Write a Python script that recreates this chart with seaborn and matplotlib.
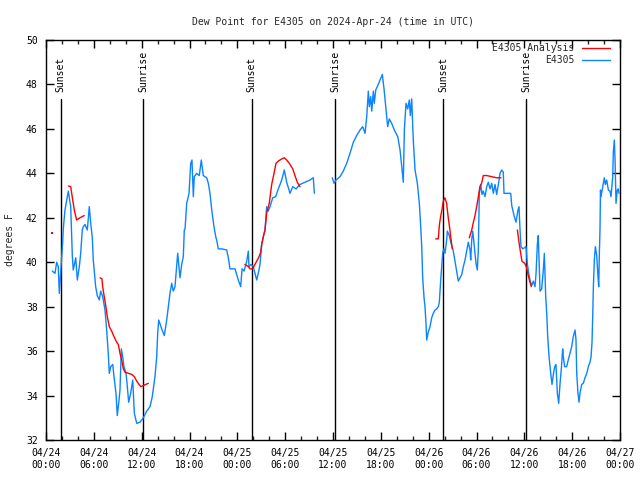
import numpy as np
import pandas as pd
import matplotlib
matplotlib.use("Agg")
import matplotlib.pyplot as plt
import matplotlib.dates as mdates
import matplotlib.transforms as mtransforms
from matplotlib.lines import Line2D
import seaborn as sns

# ---------------- data (hours since 2024-04-24 00:00 UTC, degrees F) ----------------
START = pd.Timestamp("2024-04-24 00:00")

obs_a_hours = [0.79, 1.13, 1.34, 1.54, 1.67, 1.97, 2.09, 2.17, 2.38, 2.80,
               3.10, 3.22, 3.30, 3.42, 3.73, 3.93, 4.18, 4.35, 4.55, 4.68,
               4.89, 5.18, 5.43, 5.61, 5.81, 5.93, 6.23, 6.43, 6.69, 6.86,
               7.11, 7.40, 7.61, 7.81, 7.94, 8.12, 8.37, 8.53, 8.78, 8.94,
               9.16, 9.28, 9.45, 9.62, 9.78, 10.04, 10.20, 10.37, 10.62, 10.88,
               11.08, 11.38, 11.79, 12.21, 12.63, 13.05, 13.33, 13.67, 13.89, 14.01,
               14.14, 14.51, 14.84, 15.14, 15.34, 15.55, 15.77, 15.97, 16.18, 16.39,
               16.52, 16.68, 16.81, 17.02, 17.22, 17.35, 17.44, 17.65, 17.94, 18.15,
               18.31, 18.48, 18.60, 18.90, 19.23, 19.48, 19.73, 20.16, 20.36, 20.57,
               20.79, 21.07, 21.32, 21.41, 21.61, 22.04, 22.67, 22.87, 23.08, 23.71,
               24.12, 24.42, 24.59, 24.84, 25.18, 25.38, 25.46, 25.71, 26.00, 26.22,
               26.43, 26.63, 26.84, 27.06, 27.26, 27.47, 27.68, 27.88, 28.10, 28.44,
               28.81, 29.14, 29.57, 29.89, 30.19, 30.61, 30.95, 31.36, 31.86, 32.49,
               33.12, 33.53, 33.66]
obs_a_dew = [39.6, 39.5, 40.0, 39.8, 38.6, 40.2, 40.9, 41.5, 42.35, 43.2,
             42.5, 41.15, 40.3, 39.65, 40.2, 39.2, 39.8, 40.4, 41.45, 41.6,
             41.7, 41.45, 42.5, 41.75, 41.1, 40.1, 38.9, 38.5, 38.3, 38.7,
             38.45, 37.85, 36.95, 35.9, 35.0, 35.3, 35.4, 34.85, 34.1, 33.1,
             33.8, 34.25, 36.1, 35.75, 35.3, 35.0, 34.4, 33.7, 34.1, 34.7,
             33.2, 32.75, 32.8, 33.0, 33.3, 33.5, 33.95, 34.85, 35.75, 36.8,
             37.4, 37.0, 36.7, 37.4, 38.0, 38.6, 39.05, 38.7, 38.9, 39.8,
             40.4, 39.8, 39.3, 39.9, 40.25, 41.45, 41.5, 42.65, 43.1, 44.45,
             44.6, 42.95, 43.85, 44.0, 43.9, 44.6, 43.9, 43.8, 43.55, 43.1,
             42.35, 41.6, 41.1, 41.0, 40.6, 40.6, 40.55, 40.2, 39.7, 39.7,
             39.2, 38.9, 39.7, 39.6, 40.05, 40.5, 39.8, 39.9, 39.8, 39.5,
             39.2, 39.5, 39.9, 40.8, 41.15, 41.45, 42.5, 42.3, 42.5, 42.9,
             42.95, 43.3, 43.7, 44.15, 43.6, 43.1, 43.4, 43.3, 43.5, 43.6,
             43.7, 43.8, 43.1]

obs_b_hours = [35.91, 36.13, 36.38, 36.88, 37.29, 37.72, 38.13, 38.55, 38.97, 39.39,
               39.73, 40.02, 40.23, 40.43, 40.56, 40.73, 40.86, 41.06, 41.18, 41.36,
               41.68, 41.90, 42.19, 42.40, 42.65, 42.86, 43.06, 43.36, 43.69, 44.12,
               44.41, 44.62, 44.82, 44.95, 45.16, 45.37, 45.57, 45.70, 45.87, 46.07,
               46.29, 46.58, 46.83, 47.00, 47.13, 47.25, 47.42, 47.54, 47.67, 47.75,
               47.95, 48.17, 48.38, 48.58, 48.80, 49.01, 49.21, 49.34, 49.51, 49.64,
               49.76, 49.92, 50.05, 50.26, 50.34, 50.59, 50.77, 51.09, 51.30, 51.52,
               51.72, 51.93, 52.15, 52.35, 52.56, 52.97, 53.19, 53.27, 53.40, 53.53,
               53.94, 54.10, 54.23, 54.35, 54.53, 54.69, 54.85, 55.07, 55.28, 55.48,
               55.70, 55.91, 56.11, 56.32, 56.53, 56.74, 56.95, 57.16, 57.36, 57.45,
               58.29, 58.42, 58.74, 58.96, 59.17, 59.33, 59.46, 59.58, 59.80, 60.21,
               60.37, 60.55, 60.71, 60.92, 61.13, 61.34, 61.47, 61.63, 61.75, 61.97,
               62.18, 62.38, 62.51, 62.68, 62.81, 62.93, 63.10, 63.31, 63.47, 63.64,
               63.81, 63.97, 64.14, 64.31, 64.48, 64.64, 64.81, 64.89, 65.06, 65.31,
               65.51, 65.73, 65.94, 66.14, 66.36, 66.48, 66.57, 66.73, 66.86, 66.98,
               67.20, 67.40, 67.61, 67.83, 68.03, 68.24, 68.37, 68.49, 68.58, 68.66,
               68.78, 68.91, 69.08, 69.21, 69.33, 69.41, 69.49, 69.55, 69.62, 70.03,
               70.16, 70.33, 70.54, 70.75, 70.87, 71.09, 71.16, 71.29, 71.38, 71.50,
               71.66, 71.79, 71.88]
obs_b_dew = [43.8, 43.55, 43.7, 43.85, 44.1, 44.45, 44.9, 45.4, 45.7, 45.95,
             46.1, 45.8, 46.55, 47.7, 47.0, 47.45, 46.8, 47.7, 47.15, 47.75,
             48.0, 48.2, 48.45, 47.8, 46.85, 46.1, 46.45, 46.25, 45.95, 45.65,
             45.05, 44.3, 43.6, 45.95, 47.15, 46.9, 47.3, 46.6, 47.35, 45.5,
             44.15, 43.55, 42.65, 41.6, 40.7, 39.3, 38.4, 38.0, 37.2, 36.5,
             36.85, 37.1, 37.5, 37.7, 37.85, 37.9, 38.0, 38.2, 39.2, 39.8,
             40.4, 40.6, 40.4, 41.0, 41.4, 41.2, 40.9, 40.5, 40.05, 39.6,
             39.15, 39.3, 39.45, 39.8, 40.1, 40.9, 40.55, 40.1, 41.0, 41.4,
             39.95, 39.65, 40.55, 43.1, 43.5, 43.05, 43.2, 42.95, 43.4, 43.6,
             43.3, 43.55, 43.1, 43.5, 43.05, 43.5, 44.0, 44.15, 44.05, 43.1,
             43.1, 42.55, 42.05, 41.8, 42.3, 42.5, 41.45, 40.7, 40.6, 40.7,
             39.95, 39.5, 39.2, 38.95, 39.15, 38.9, 39.5, 40.8, 41.2, 38.7,
             38.8, 39.65, 40.4, 38.45, 37.7, 36.65, 35.75, 35.0, 34.5, 34.95,
             35.3, 35.4, 34.1, 33.65, 34.55, 35.2, 36.1, 35.75, 35.3, 35.3,
             35.6, 35.9, 36.2, 36.65, 36.95, 36.5, 35.0, 34.1, 33.7, 34.1,
             34.5, 34.55, 34.8, 35.0, 35.3, 35.5, 35.75, 36.4, 37.6, 38.9,
             40.1, 40.7, 40.3, 39.5, 38.9, 40.4, 41.45, 43.25, 42.95, 43.8,
             43.5, 43.7, 43.25, 43.2, 42.95, 43.85, 44.95, 45.5, 44.6, 42.65,
             43.25, 43.3, 43.1]

an_point_hours = [0.79]
an_point_dew = [41.3]

an_1_hours = [2.80, 3.10, 3.35, 3.55, 3.84, 4.26, 4.80]
an_1_dew = [43.43, 43.4, 42.8, 42.35, 41.9, 42.0, 42.1]

an_2_hours = [6.78, 7.02, 7.11, 7.28, 7.49, 7.69, 7.94, 8.24, 8.53, 8.87,
              9.07, 9.28, 9.49, 9.70, 9.91, 10.33, 10.76, 11.08, 11.38, 11.67,
              11.92, 12.21, 12.51, 12.83]
an_2_dew = [39.3, 39.25, 38.9, 38.5, 38.05, 37.55, 37.1, 36.9, 36.65, 36.4,
            36.3, 35.9, 35.6, 35.2, 35.05, 35.0, 34.95, 34.85, 34.65, 34.5,
            34.4, 34.45, 34.5, 34.55]

an_3_hours = [24.96, 25.18, 25.38, 25.59, 25.92, 26.13, 26.43, 26.72, 26.93, 27.06,
              27.26, 27.47, 27.68, 28.00, 28.31, 28.60, 28.85, 29.14, 29.57, 29.89,
              30.19, 30.52, 30.95, 31.23, 31.52, 31.86]
an_3_dew = [39.9, 39.85, 39.8, 39.7, 39.7, 39.85, 40.05, 40.25, 40.45, 40.8,
            41.15, 41.45, 42.2, 42.65, 43.5, 44.0, 44.45, 44.55, 44.65, 44.7,
            44.6, 44.45, 44.2, 43.9, 43.6, 43.4]

an_4_hours = [48.88, 49.21, 49.29, 49.37, 49.50, 49.66, 49.84, 50.04, 50.25, 50.46,
              50.67, 50.76, 50.97]
an_4_dew = [41.05, 41.05, 41.45, 41.75, 42.05, 42.35, 42.75, 42.9, 42.65, 42.0,
            41.45, 41.15, 40.6]

an_5_hours = [53.10, 53.27, 53.40, 53.61, 53.81, 54.02, 54.23, 54.43, 54.64, 54.85,
              55.28, 55.91, 56.53, 57.07]
an_5_dew = [41.1, 41.3, 41.45, 41.8, 42.1, 42.5, 42.95, 43.4, 43.55, 43.9,
            43.9, 43.85, 43.8, 43.8]

an_6_hours = [59.13, 59.33, 59.50, 59.70, 60.04, 60.25, 60.46, 60.67, 60.88]
an_6_dew = [41.45, 40.9, 40.5, 40.05, 39.95, 39.8, 39.45, 39.15, 38.9]

sun_event_hours = [1.83, 12.22, 25.80, 36.30, 49.83, 60.22]
sun_event_labels = ["Sunset", "Sunrise", "Sunset", "Sunrise", "Sunset", "Sunrise"]

title_text = "Dew Point for E4305 on 2024-Apr-24 (time in UTC)"
ylabel_text = "degrees F"
series_labels = ["E4305 Analysis", "E4305"]
y_ticks = [32, 34, 36, 38, 40, 42, 44, 46, 48, 50]

# ---------------- build frames ----------------
def make_df(segments):
    rows = []
    for sid, (hrs, vals) in enumerate(segments):
        for h, v in zip(hrs, vals):
            rows.append({"seg": sid, "time": START + pd.Timedelta(hours=h), "dew": v})
    return pd.DataFrame(rows)

obs_df = make_df([(obs_a_hours, obs_a_dew), (obs_b_hours, obs_b_dew)])
an_df = make_df([(an_1_hours, an_1_dew), (an_2_hours, an_2_dew), (an_3_hours, an_3_dew),
                 (an_4_hours, an_4_dew), (an_5_hours, an_5_dew), (an_6_hours, an_6_dew)])
an_pt_df = make_df([(an_point_hours, an_point_dew)])

# ---------------- style ----------------
sns.set_theme(style="white")
plt.rcParams["font.family"] = ["DejaVu Sans Mono"]
plt.rcParams["axes.edgecolor"] = "black"
plt.rcParams["axes.linewidth"] = 1.0

BLUE = "#0a84ff"
RED = "#ff0000"

fig = plt.figure(figsize=(6.4, 4.8), dpi=100)
ax = fig.add_axes([46 / 640, 40 / 480, 574 / 640, 400 / 480])

sns.lineplot(data=obs_df, x="time", y="dew", units="seg", estimator=None,
             color=BLUE, lw=1.0, ax=ax, legend=False, zorder=3)
sns.lineplot(data=an_df, x="time", y="dew", units="seg", estimator=None,
             color=RED, lw=1.0, ax=ax, legend=False, zorder=4)
sns.scatterplot(data=an_pt_df, x="time", y="dew", color=RED, marker="s", s=2,
                linewidth=0, ax=ax, legend=False, zorder=4)

# sunrise / sunset markers
trans = mtransforms.blended_transform_factory(ax.transData, ax.transAxes)
for h, lab in zip(sun_event_hours, sun_event_labels):
    t = mdates.date2num(START + pd.Timedelta(hours=h))
    ax.axvline(t, ymin=0, ymax=0.853, color="black", lw=1.0, zorder=2)
    ax.text(t, 0.87, lab, transform=trans, rotation=90, ha="center", va="bottom",
            fontsize=7, color="black", zorder=5)

# axes limits & ticks
ax.set_xlim(START, START + pd.Timedelta(hours=72))
ax.set_ylim(32, 50)
ax.set_yticks(y_ticks)
ax.xaxis.set_major_locator(mdates.HourLocator(byhour=[0, 6, 12, 18]))
ax.xaxis.set_major_formatter(mdates.DateFormatter("%m/%d\n%H:%M"))
ax.xaxis.set_minor_locator(mdates.HourLocator(byhour=list(range(0, 24, 2))))
ax.tick_params(axis="both", which="major", direction="in", length=6, width=1,
               top=True, right=True, bottom=True, left=True, colors="black",
               labelsize=7, pad=6)
ax.tick_params(axis="x", which="minor", direction="in", length=3, width=1,
               top=True, bottom=True)
for sp in ax.spines.values():
    sp.set_visible(True)
    sp.set_color("black")
    sp.set_linewidth(1.0)

ax.set_xlabel("")
ax.set_ylabel(ylabel_text, fontsize=7)
ax.yaxis.set_label_coords(-31 / 574, 0.5)
ax.set_title(title_text, fontsize=7, pad=11)

handles = [Line2D([], [], color=RED, lw=1.0), Line2D([], [], color=BLUE, lw=1.0)]
leg = ax.legend(handles, series_labels, loc="upper right", frameon=False,
                bbox_to_anchor=(1 - 10 / 574, 1 - 3 / 400),
                markerfirst=False, fontsize=7, handlelength=2.9, handletextpad=0.8,
                labelspacing=0.25, borderaxespad=0, borderpad=0)
leg.set_zorder(6)

fig.savefig("out.png", dpi=100)
